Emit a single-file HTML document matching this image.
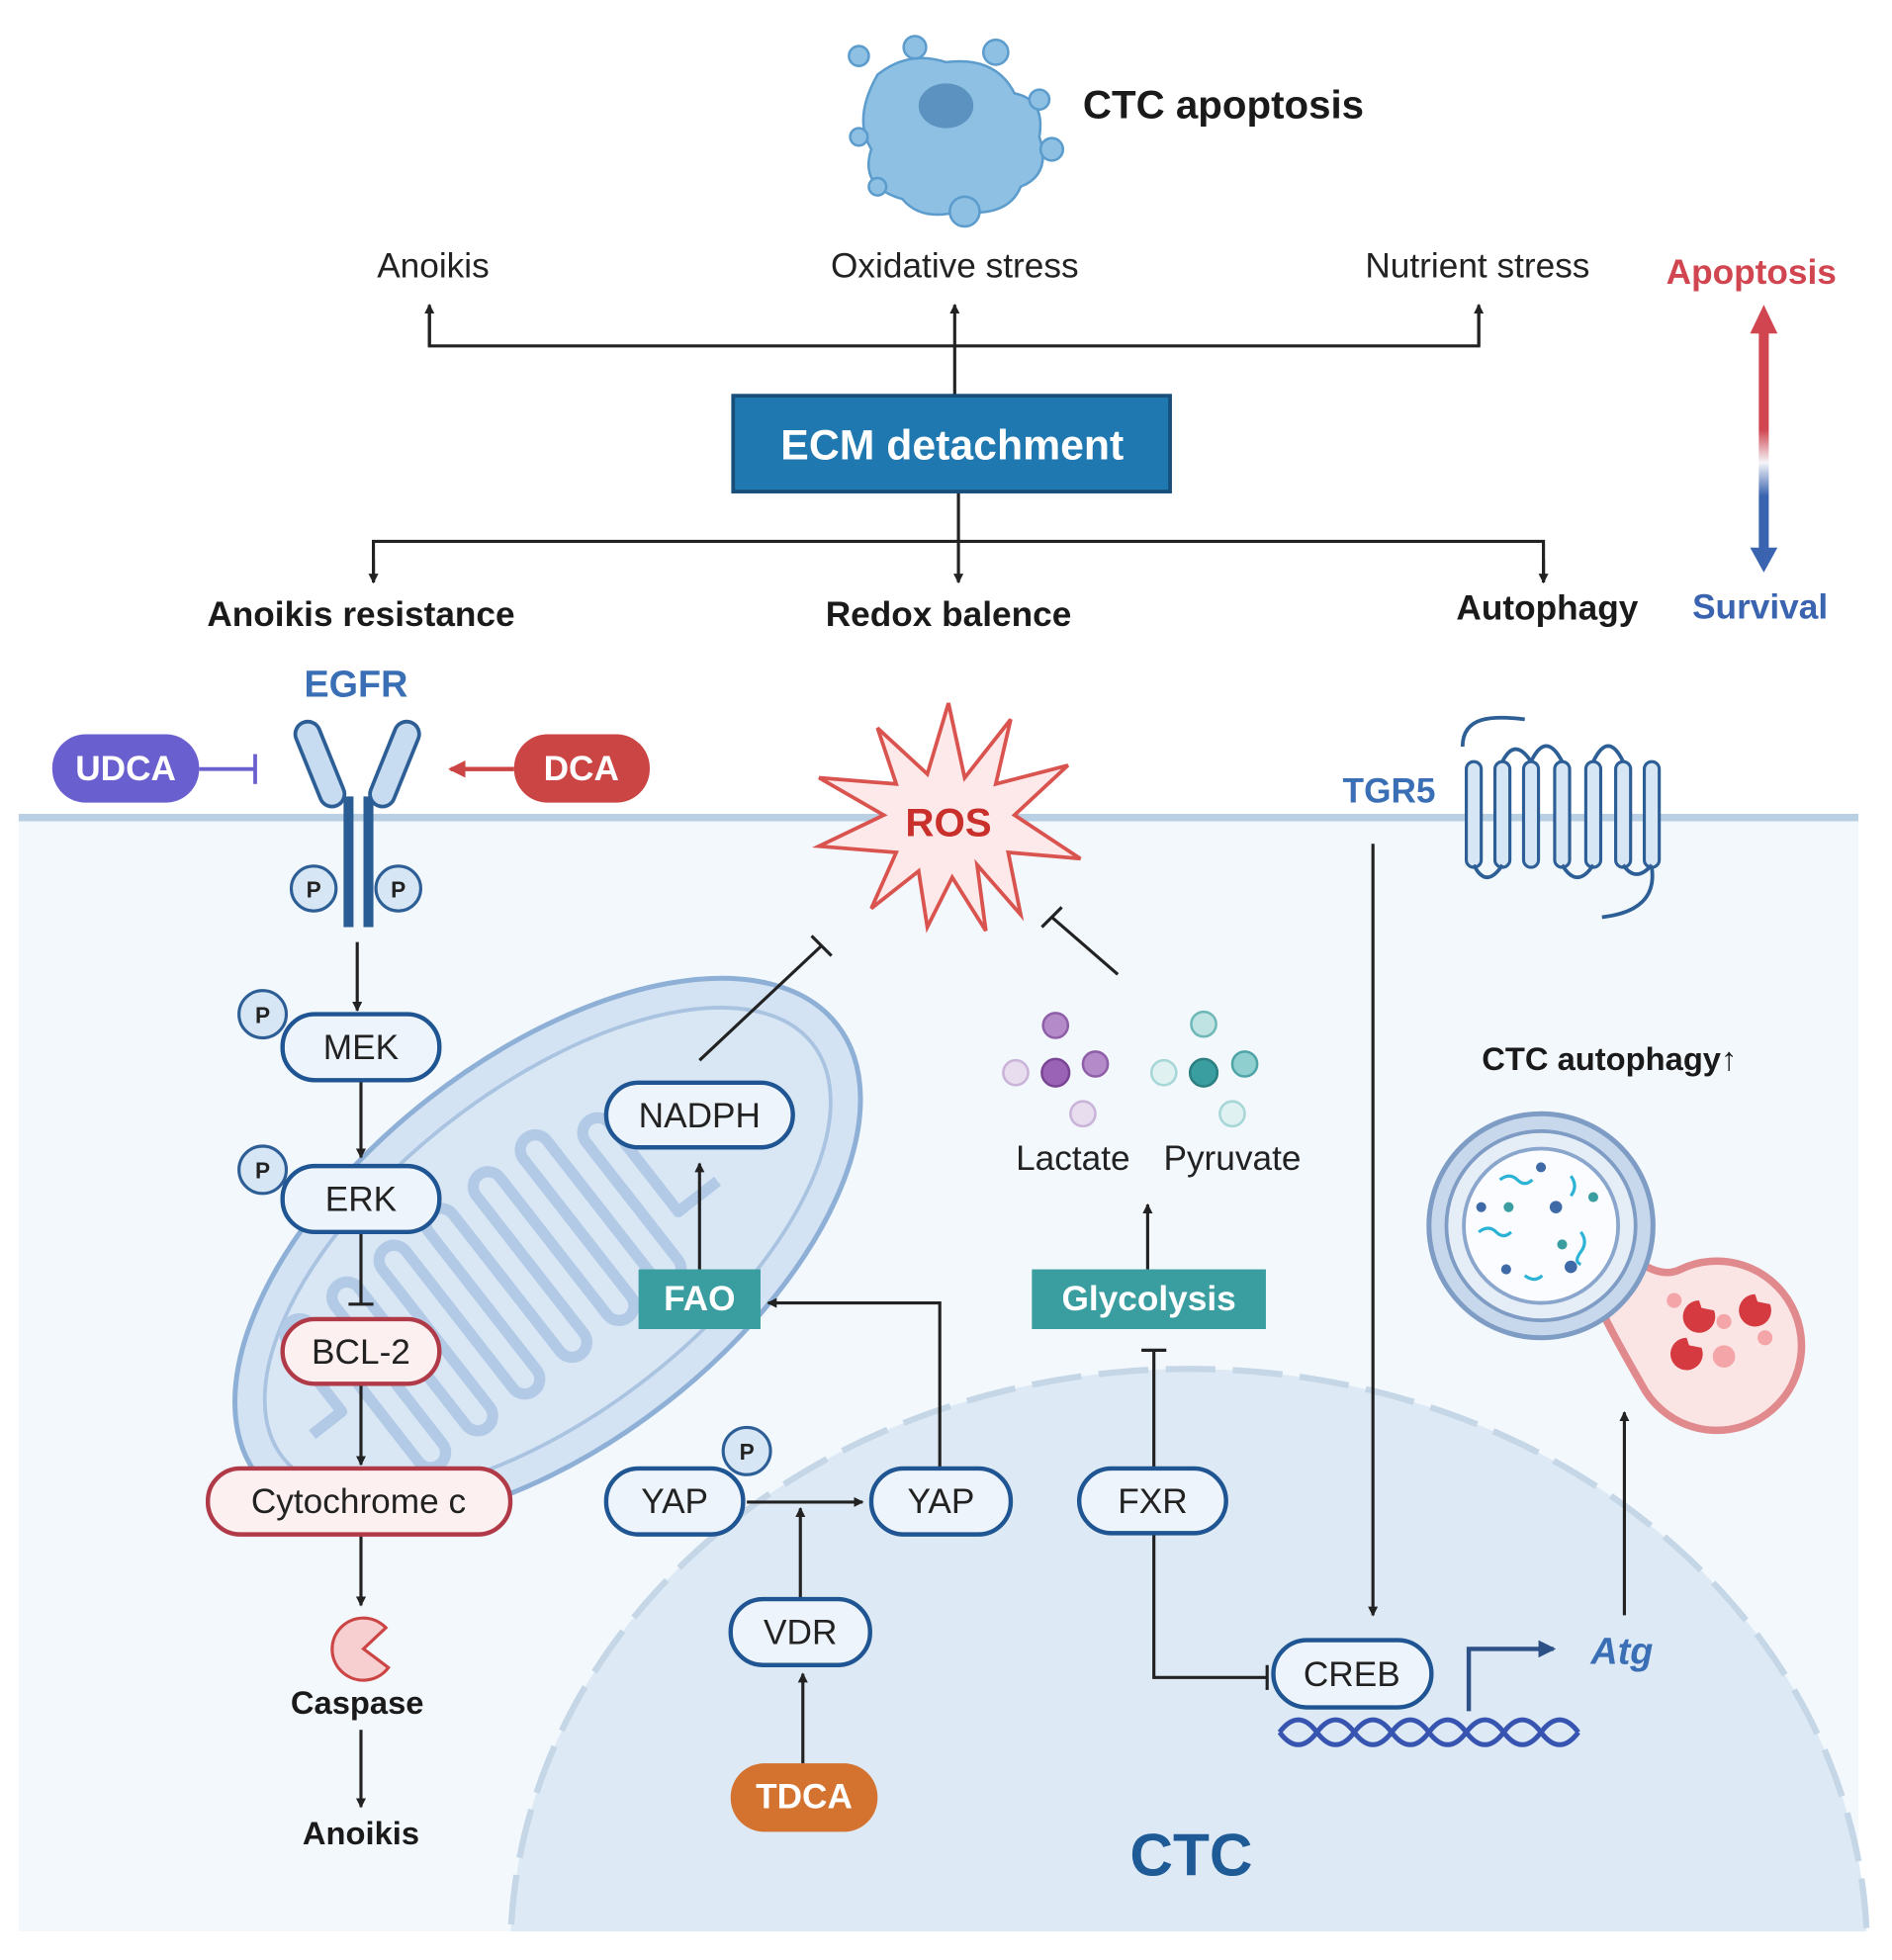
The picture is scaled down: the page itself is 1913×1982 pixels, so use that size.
<!DOCTYPE html>
<html><head><meta charset="utf-8"><style>html,body{margin:0;padding:0;background:#fff;overflow:hidden;width:1913px;height:1982px}svg{display:block}text{font-family:"Liberation Sans",sans-serif}</style></head><body>
<svg width="1913" height="1982" viewBox="0 0 1520 1575" preserveAspectRatio="none" xmlns="http://www.w3.org/2000/svg">
<defs>
<marker id="a" markerWidth="8" markerHeight="8" refX="7" refY="4" orient="auto" markerUnits="userSpaceOnUse"><path d="M0,0 L8,4 L0,8z" fill="#222"/></marker>
<marker id="ab" markerWidth="14" markerHeight="14" refX="12" refY="7" orient="auto" markerUnits="userSpaceOnUse"><path d="M0,0 L14,7 L0,14z" fill="#2d5186"/></marker>
<marker id="ar" markerWidth="14" markerHeight="14" refX="12" refY="7" orient="auto" markerUnits="userSpaceOnUse"><path d="M0,0 L14,7 L0,14z" fill="#cc4545"/></marker>
<linearGradient id="g" x1="0" y1="0" x2="0" y2="1"><stop offset="0" stop-color="#d0454f"/><stop offset="0.45" stop-color="#d0454f"/><stop offset="0.6" stop-color="#f4f4f8"/><stop offset="0.75" stop-color="#3a64b0"/><stop offset="1" stop-color="#3a64b0"/></linearGradient>
</defs>
<rect x="15" y="657" width="1478" height="895" fill="#f3f8fd"/>
<line x1="15" y1="657" x2="1493" y2="657" stroke="#b9d0e4" stroke-width="6"/>
<ellipse cx="955" cy="1570" rx="545" ry="470" fill="#dde9f4" stroke="#c5d6e6" stroke-width="5" stroke-dasharray="40 14"/>
<rect x="0" y="1552" width="1520" height="30" fill="#fff"/>
<g fill="#8ec0e4" stroke="#5b9ccd" stroke-width="2">
<path d="M705,60 Q730,40 760,50 Q800,45 815,75 Q840,80 835,110 Q845,140 820,150 Q810,175 770,170 Q740,178 725,160 Q690,150 700,120 Q685,95 705,60z"/>
<circle cx="690" cy="45" r="8"/><circle cx="735" cy="38" r="9"/><circle cx="800" cy="42" r="10"/><circle cx="835" cy="80" r="8"/><circle cx="690" cy="110" r="7"/><circle cx="775" cy="170" r="12"/><circle cx="845" cy="120" r="9"/><circle cx="705" cy="150" r="7"/>
</g>
<ellipse cx="760" cy="85" rx="22" ry="18" fill="#5b92c0"/>
<text x="870" y="95" font-size="32" font-weight="bold" fill="#1a1a1a">CTC apoptosis</text>
<g font-size="28" fill="#222" text-anchor="middle"><text x="348" y="223">Anoikis</text><text x="767" y="223">Oxidative stress</text><text x="1187" y="223">Nutrient stress</text></g>
<g stroke="#222" stroke-width="2.5" fill="none">
<path d="M345,248 V278 H1188 V248" /><line x1="345" y1="278" x2="345" y2="245" marker-end="url(#a)"/><line x1="1188" y1="278" x2="1188" y2="245" marker-end="url(#a)"/><line x1="767" y1="318" x2="767" y2="245" marker-end="url(#a)"/>
<line x1="770" y1="395" x2="770" y2="468" marker-end="url(#a)"/><path d="M300,468 V435 H1240 V468"/><line x1="300" y1="450" x2="300" y2="468" marker-end="url(#a)"/><line x1="1240" y1="450" x2="1240" y2="468" marker-end="url(#a)"/>
</g>
<rect x="589" y="318" width="351" height="77" fill="#1f78b0" stroke="#174e7a" stroke-width="3"/>
<text x="765" y="369" font-size="34" font-weight="bold" fill="#fff" text-anchor="middle">ECM detachment</text>
<g font-size="28" font-weight="bold" fill="#1a1a1a" text-anchor="middle"><text x="290" y="503">Anoikis resistance</text><text x="762" y="503">Redox balence</text><text x="1243" y="498">Autophagy</text></g>
<text x="1407" y="228" font-size="28" font-weight="bold" fill="#d0454f" text-anchor="middle">Apoptosis</text>
<text x="1414" y="497" font-size="28" font-weight="bold" fill="#3a64b0" text-anchor="middle">Survival</text>
<rect x="1413" y="265" width="8" height="178" fill="url(#g)"/>
<path d="M1406,268 L1417,245 L1428,268z" fill="#d0454f"/><path d="M1406,440 L1417,460 L1428,440z" fill="#3a64b0"/>
<text x="286" y="560" font-size="30" font-weight="bold" fill="#3a6fb5" text-anchor="middle">EGFR</text>
<rect x="276" y="640" width="8" height="105" fill="#2a5d94"/><rect x="292" y="640" width="8" height="105" fill="#2a5d94"/>
<rect x="247" y="578" width="20" height="72" rx="10" fill="#c7dcf0" stroke="#2d5f96" stroke-width="3" transform="rotate(-22 257 614)"/>
<rect x="307" y="578" width="20" height="72" rx="10" fill="#c7dcf0" stroke="#2d5f96" stroke-width="3" transform="rotate(22 317 614)"/>
<g fill="#d7e6f5" stroke="#2d5f96" stroke-width="2.5"><circle cx="252" cy="714" r="18"/><circle cx="320" cy="714" r="18"/><circle cx="211" cy="815" r="19"/><circle cx="211" cy="940" r="19"/><circle cx="600" cy="1166" r="19"/></g>
<g font-size="18" font-weight="bold" fill="#222" text-anchor="middle"><text x="252" y="721">P</text><text x="320" y="721">P</text><text x="211" y="822">P</text><text x="211" y="947">P</text><text x="600" y="1173">P</text></g>
<rect x="42" y="590" width="118" height="55" rx="27" fill="#6a5fcf"/><text x="101" y="627" font-size="28" font-weight="bold" fill="#fff" text-anchor="middle">UDCA</text>
<line x1="160" y1="618" x2="205" y2="618" stroke="#6a5fcf" stroke-width="3"/><line x1="205" y1="606" x2="205" y2="630" stroke="#6a5fcf" stroke-width="3"/>
<rect x="413" y="590" width="109" height="55" rx="27" fill="#cc4545"/><text x="467" y="627" font-size="28" font-weight="bold" fill="#fff" text-anchor="middle">DCA</text>
<line x1="413" y1="618" x2="362" y2="618" stroke="#cc4545" stroke-width="3.5" marker-end="url(#ar)"/>
<path d="M762,565 L775,625 L812,578 L800,630 L858,615 L815,655 L868,690 L810,685 L820,735 L785,695 L792,748 L765,705 L745,745 L738,700 L700,730 L720,685 L658,680 L710,655 L658,625 L720,630 L705,585 L745,622z" fill="#fde9e9" stroke="#d9534f" stroke-width="3"/>
<text x="762" y="672" font-size="32" font-weight="bold" fill="#c9302c" text-anchor="middle">ROS</text>
<text x="1116" y="645" font-size="28" font-weight="bold" fill="#3a6fb5" text-anchor="middle">TGR5</text>
<path d="M1175,600 C1175,575 1200,575 1225,578" fill="none" stroke="#2d5f96" stroke-width="3"/>
<g fill="#d7e6f5" stroke="#2d5f96" stroke-width="2.5">
<rect x="1178" y="612" width="12" height="85" rx="6"/><rect x="1201" y="612" width="12" height="85" rx="6"/><rect x="1224" y="612" width="12" height="85" rx="6"/><rect x="1249" y="612" width="12" height="85" rx="6"/><rect x="1274" y="612" width="12" height="85" rx="6"/><rect x="1298" y="612" width="12" height="85" rx="6"/><rect x="1321" y="612" width="12" height="85" rx="6"/>
</g>
<path d="M1184,695 q10,20 23,0 M1230,612 q12,-25 25,0 M1255,695 q12,20 25,0 M1280,612 q12,-25 24,0 M1304,695 q10,15 23,0 M1207,612 q10,-20 23,0 M1327,697 q5,35 -40,40" fill="none" stroke="#2d5f96" stroke-width="3"/>
<line x1="1103" y1="678" x2="1103" y2="1298" stroke="#222" stroke-width="2.5" marker-end="url(#a)"/>
<g transform="rotate(-38 440 1005)">
<ellipse cx="440" cy="1005" rx="295" ry="155" fill="#c9dcef" fill-opacity="0.75" stroke="#8fb0d6" stroke-width="4"/>
<ellipse cx="440" cy="1005" rx="270" ry="130" fill="#d9e7f5" stroke="#a9c3e0" stroke-width="3"/>
<path d="M200,1005 h30 v-70 a12,12 0 0 1 24,0 v140 a12,12 0 0 0 24,0 v-140 a12,12 0 0 1 24,0 v140 a12,12 0 0 0 24,0 v-140 a12,12 0 0 1 24,0 v140 a12,12 0 0 0 24,0 v-140 a12,12 0 0 1 24,0 v140 a12,12 0 0 0 24,0 v-140 a12,12 0 0 1 24,0 v140 a12,12 0 0 0 24,0 v-140 a12,12 0 0 1 24,0 v140 a12,12 0 0 0 24,0 v-120 a12,12 0 0 1 24,0 v90 h40" fill="none" stroke="#b3cae6" stroke-width="9" stroke-linejoin="round"/>
</g>
<g stroke="#222" stroke-width="2.5" fill="none">
<line x1="287" y1="757" x2="287" y2="812" marker-end="url(#a)"/>
<line x1="290" y1="868" x2="290" y2="930" marker-end="url(#a)"/>
<line x1="290" y1="990" x2="290" y2="1048"/><line x1="280" y1="1048" x2="300" y2="1048"/>
<line x1="290" y1="1112" x2="290" y2="1177" marker-end="url(#a)"/>
<line x1="290" y1="1233" x2="290" y2="1290" marker-end="url(#a)"/>
<line x1="290" y1="1390" x2="290" y2="1452" marker-end="url(#a)"/>
<line x1="562" y1="1020" x2="562" y2="935" marker-end="url(#a)"/>
<line x1="562" y1="852" x2="660" y2="760"/><line x1="652" y1="752" x2="668" y2="768"/>
<line x1="898" y1="783" x2="845" y2="737"/><line x1="837" y1="745" x2="853" y2="729"/>
<line x1="922" y1="1020" x2="922" y2="968" marker-end="url(#a)"/>
<line x1="927" y1="1180" x2="927" y2="1085"/><line x1="917" y1="1085" x2="937" y2="1085"/>
<path d="M927,1232 V1348 H1018"/><line x1="1018" y1="1338" x2="1018" y2="1358"/>
<path d="M755,1180 V1047 H617" marker-end="url(#a)"/>
<line x1="600" y1="1207" x2="693" y2="1207" marker-end="url(#a)"/>
<line x1="643" y1="1285" x2="643" y2="1212" marker-end="url(#a)"/>
<line x1="645" y1="1417" x2="645" y2="1345" marker-end="url(#a)"/>
<line x1="1305" y1="1298" x2="1305" y2="1135" marker-end="url(#a)"/>
</g>
<g fill="#eef4fb" stroke="#1f5592" stroke-width="3.5">
<rect x="227" y="815" width="126" height="53" rx="26"/><rect x="227" y="937" width="126" height="53" rx="26"/>
<rect x="487" y="870" width="150" height="52" rx="26"/>
<rect x="487" y="1180" width="110" height="53" rx="26"/><rect x="700" y="1180" width="112" height="53" rx="26"/>
<rect x="867" y="1180" width="118" height="52" rx="26"/><rect x="587" y="1285" width="112" height="53" rx="26"/>
<rect x="1023" y="1318" width="127" height="54" rx="27"/>
</g>
<g fill="#fdf0f0" stroke="#b03a48" stroke-width="3.5"><rect x="227" y="1060" width="126" height="52" rx="26"/><rect x="167" y="1180" width="243" height="53" rx="26"/></g>
<g font-size="28" fill="#222" text-anchor="middle">
<text x="290" y="851">MEK</text><text x="290" y="973">ERK</text><text x="562" y="906">NADPH</text><text x="290" y="1096">BCL-2</text><text x="288" y="1216">Cytochrome c</text>
<text x="542" y="1216">YAP</text><text x="756" y="1216">YAP</text><text x="926" y="1216">FXR</text><text x="643" y="1321">VDR</text><text x="1086" y="1355">CREB</text>
<text x="862" y="940">Lactate</text><text x="990" y="940">Pyruvate</text>
</g>
<rect x="513" y="1020" width="98" height="48" fill="#3a9ea0"/><text x="562" y="1053" font-size="28" font-weight="bold" fill="#fff" text-anchor="middle">FAO</text>
<rect x="829" y="1020" width="188" height="48" fill="#3a9ea0"/><text x="923" y="1053" font-size="28" font-weight="bold" fill="#fff" text-anchor="middle">Glycolysis</text>
<rect x="587" y="1417" width="118" height="55" rx="27" fill="#d4722f"/><text x="646" y="1453" font-size="28" font-weight="bold" fill="#fff" text-anchor="middle">TDCA</text>
<path d="M310,1308 A25,25 0 1 0 312,1340 L292,1325z" fill="#f7cfd0" stroke="#cc4545" stroke-width="2.5"/>
<g font-size="26" font-weight="bold" fill="#1a1a1a" text-anchor="middle"><text x="287" y="1377">Caspase</text><text x="290" y="1482">Anoikis</text></g>
<g stroke-width="2"><circle cx="848" cy="824" r="10" fill="#b58ac8" stroke="#8e5fa8"/><circle cx="816" cy="862" r="10" fill="#e8dcef" stroke="#c9b3d8"/><circle cx="848" cy="862" r="11" fill="#9a63b5" stroke="#7a4595"/><circle cx="880" cy="855" r="10" fill="#b58ac8" stroke="#8e5fa8"/><circle cx="870" cy="895" r="10" fill="#e8dcef" stroke="#c9b3d8"/>
<circle cx="967" cy="823" r="10" fill="#bfe3e3" stroke="#6fb8b8"/><circle cx="935" cy="862" r="10" fill="#dff1f1" stroke="#a6d6d6"/><circle cx="967" cy="862" r="11" fill="#3a9ea0" stroke="#2b7f81"/><circle cx="1000" cy="855" r="10" fill="#8fcfcf" stroke="#4fa5a6"/><circle cx="990" cy="895" r="10" fill="#dff1f1" stroke="#a6d6d6"/></g>
<text x="1293" y="860" font-size="26" font-weight="bold" fill="#1a1a1a" text-anchor="middle">CTC autophagy↑</text>
<path d="M1300,1000 Q1330,1030 1350,1020 A68,68 0 1 1 1322,1118 Q1300,1080 1290,1060z" fill="#fbe4e4" stroke="#e08a8d" stroke-width="6"/>
<circle cx="1238" cy="985" r="90" fill="#c7d8ec" stroke="#7e9cc4" stroke-width="4"/>
<circle cx="1238" cy="985" r="76" fill="#e5edf7" stroke="#7e9cc4" stroke-width="3"/>
<circle cx="1238" cy="985" r="62" fill="#fafcff" stroke="#8aa6cc" stroke-width="3"/>
<g fill="#d43a3f"><path d="M1365,1045 a13,13 0 1 0 12,8 l-10,-2z"/><path d="M1410,1040 a13,13 0 1 0 12,8 l-10,-2z"/><path d="M1355,1075 a13,13 0 1 0 12,8 l-10,-2z"/></g>
<g fill="#f3a5a8"><circle cx="1385" cy="1090" r="9"/><circle cx="1345" cy="1045" r="6"/><circle cx="1418" cy="1075" r="6"/><circle cx="1385" cy="1062" r="6"/></g>
<g fill="#3e6aa8"><circle cx="1238" cy="938" r="4"/><circle cx="1190" cy="970" r="4"/><circle cx="1250" cy="970" r="5"/><circle cx="1210" cy="1020" r="4"/><circle cx="1262" cy="1018" r="5"/></g>
<g fill="#3a9ea0"><circle cx="1212" cy="970" r="4"/><circle cx="1280" cy="962" r="4"/><circle cx="1255" cy="1000" r="4"/></g>
<g fill="none" stroke="#2bb3d6" stroke-width="2.5"><path d="M1205,948 q8,-6 14,0 t12,0"/><path d="M1188,990 q8,-6 14,0 t12,0"/><path d="M1262,945 q6,8 0,16"/><path d="M1225,1025 q8,6 14,0"/><path d="M1270,990 q6,8 0,16 t0,10"/></g>
<path d="M1028,1392 q15,-20 30,0 t30,0 t30,0 t30,0 t30,0 t30,0 t30,0 t30,0" fill="none" stroke="#3755b0" stroke-width="4"/>
<path d="M1028,1392 q15,20 30,0 t30,0 t30,0 t30,0 t30,0 t30,0 t30,0 t30,0" fill="none" stroke="#3755b0" stroke-width="4"/>
<path d="M1180,1375 V1325 H1248" fill="none" stroke="#2d5186" stroke-width="3.5" marker-end="url(#ab)"/>
<text x="1303" y="1337" font-size="30" font-weight="bold" font-style="italic" fill="#3a6fb5" text-anchor="middle">Atg</text>
<text x="957" y="1507" font-size="48" font-weight="bold" fill="#1e5a96" text-anchor="middle">CTC</text>
</svg>
</body></html>
